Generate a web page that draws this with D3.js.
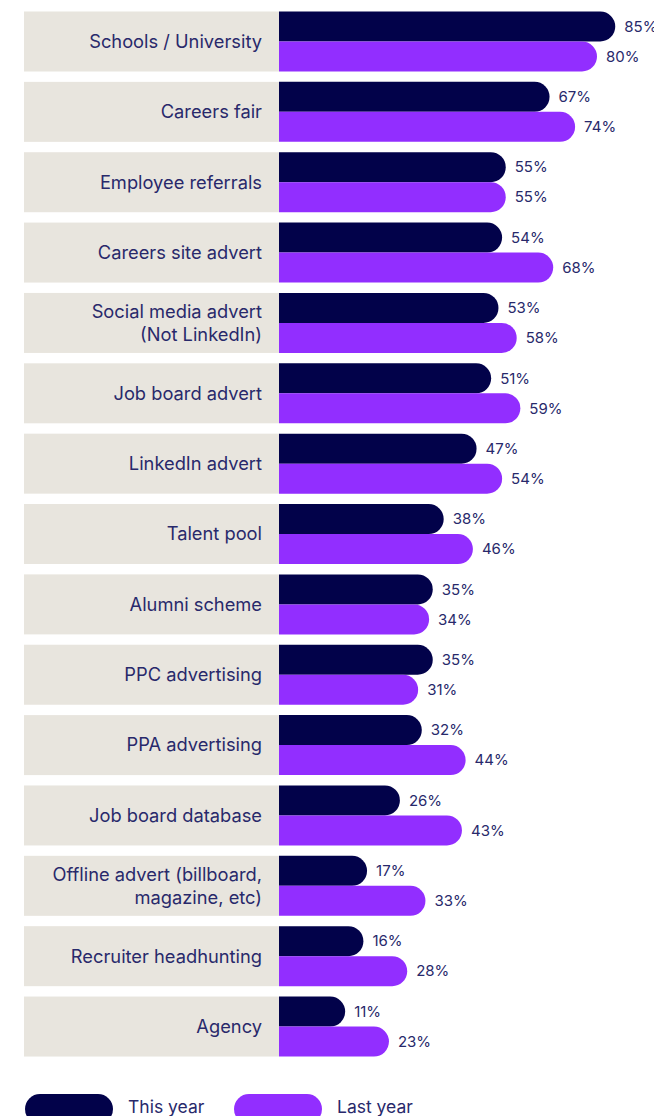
<!DOCTYPE html>
<html>
<head>
<meta charset="utf-8">
<script src="https://cdn.jsdelivr.net/npm/d3@7"></script>
<style>
  html, body { margin: 0; padding: 0; background: #ffffff; }
  svg { display: block; }
  text { font-family: Inter, "Noto Sans", sans-serif; }
</style>
</head>
<body>
<div id="chart"></div>
<script>
// Recruitment channels used, this year vs last year (% of respondents)
const categories = [
  ["Schools / University"],
  ["Careers fair"],
  ["Employee referrals"],
  ["Careers site advert"],
  ["Social media advert", "(Not LinkedIn)"],
  ["Job board advert"],
  ["LinkedIn advert"],
  ["Talent pool"],
  ["Alumni scheme"],
  ["PPC advertising"],
  ["PPA advertising"],
  ["Job board database"],
  ["Offline advert (billboard,", "magazine, etc)"],
  ["Recruiter headhunting"],
  ["Agency"]
];
const thisYear = [85, 67, 55, 54, 53, 51, 47, 38, 35, 35, 32, 26, 17, 16, 11];
const lastYear = [80, 74, 55, 68, 58, 59, 54, 46, 34, 31, 44, 43, 33, 28, 23];
const seriesNames = ["This year", "Last year"];

const W = 654, H = 1116;
const colors = { thisYear: "#02024a", lastYear: "#922eff" };
const labelBg = "#e8e5de";
const textColor = "#28296b";

const boxLeft = 24, barLeft = 279;
const barH = 30, rowTop = 11.5, rowPitch = 70.36;
const cap = 26; // length of the rounded cap before the value scale starts

const svg = d3.select("#chart").append("svg")
  .attr("width", W).attr("height", H);

const y = d3.scaleLinear().domain([0, categories.length - 1])
  .range([rowTop, rowTop + rowPitch * (categories.length - 1)]);
const x = d3.scaleLinear().domain([0, 100]).range([0, 365]);

// bar with square left edge and round right end
function pill(x0, y0, w, h) {
  const r = h / 2;
  return `M${x0},${y0}H${x0 + w - r}A${r},${r} 0 0 1 ${x0 + w - r},${y0 + h}H${x0}Z`;
}

const rows = svg.selectAll("g.row")
  .data(categories.map((c, i) => ({ label: c, a: thisYear[i], b: lastYear[i], i })))
  .join("g").attr("class", "row")
  .attr("transform", d => `translate(0,${y(d.i)})`);

rows.append("rect")
  .attr("x", boxLeft).attr("y", 0)
  .attr("width", barLeft - boxLeft).attr("height", barH * 2)
  .attr("fill", labelBg);

rows.append("text")
  .attr("x", 262)
  .attr("text-anchor", "end")
  .attr("fill", textColor)
  .attr("font-size", 18.3)
  .each(function (d) {
    const t = d3.select(this);
    const n = d.label.length, lh = 23;
    d.label.forEach((line, k) => {
      t.append("tspan")
        .attr("x", 262)
        .attr("y", barH + (k - (n - 1) / 2) * lh)
        .attr("dy", "0.35em")
        .text(line);
    });
  });

const series = [
  { key: "a", color: colors.thisYear, off: 0 },
  { key: "b", color: colors.lastYear, off: barH }
];

series.forEach(s => {
  rows.append("path")
    .attr("d", d => pill(barLeft, s.off, cap + x(d[s.key]), barH))
    .attr("fill", s.color);
  rows.append("text")
    .attr("x", d => barLeft + cap + x(d[s.key]) + 9)
    .attr("y", s.off + barH / 2)
    .attr("dy", "0.35em")
    .attr("fill", textColor)
    .attr("font-size", 15)
    .text(d => d[s.key] + "%");
});

// legend
const legend = svg.append("g").attr("transform", "translate(0,1094)");
const legendItems = [
  { name: seriesNames[0], color: colors.thisYear, x: 25 },
  { name: seriesNames[1], color: colors.lastYear, x: 234 }
];
legendItems.forEach(it => {
  legend.append("rect")
    .attr("x", it.x).attr("y", 0)
    .attr("width", 88).attr("height", 30)
    .attr("rx", 15).attr("ry", 15)
    .attr("fill", it.color);
  legend.append("text")
    .attr("x", it.x + 103).attr("y", 19)
    .attr("fill", textColor)
    .attr("font-size", 17.5)
    .text(it.name);
});
</script>
</body>
</html>
